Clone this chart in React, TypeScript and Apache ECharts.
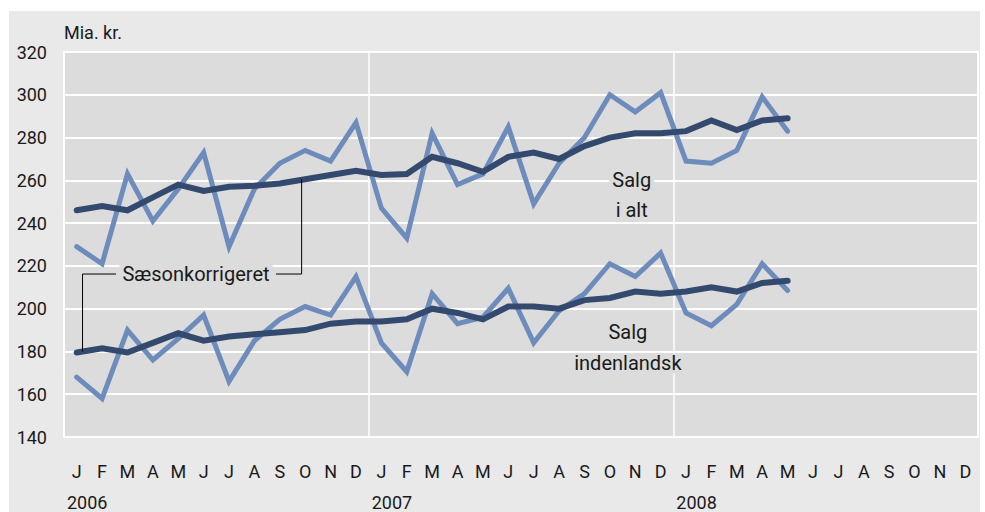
import React, { useEffect, useRef } from "react";
import * as echarts from "echarts";

const YEARS = ["2006", "2007", "2008"];
const MONTH_LETTERS = ["J", "F", "M", "A", "M", "J", "J", "A", "S", "O", "N", "D"];

// Salg i alt (ikke sæsonkorrigeret), mia. kr., jan 2006 - maj 2008
const SALG_I_ALT = [
  229, 221, 263, 241, 256, 273, 229, 256, 268, 274, 269, 287,
  247, 233, 282, 258, 263, 285, 249, 268, 280, 300, 292, 301,
  269, 268, 274, 299, 283,
];
// Salg i alt, sæsonkorrigeret
const SALG_I_ALT_SK = [
  246, 248, 246, 252, 258, 255, 257, 257.5, 258.5, 260.5, 262.5, 264.5,
  262.5, 263, 271, 268, 264, 271, 273, 270, 276, 280, 282, 282,
  283, 288, 283.5, 288, 289,
];
// Salg indenlandsk (ikke sæsonkorrigeret)
const SALG_INDENLANDSK = [
  168, 158, 190, 176, 186, 197, 166, 185, 195, 201, 197, 215,
  184, 170.5, 207, 193, 196, 209.5, 184, 199, 207, 221, 215, 226,
  198, 192, 202, 221, 208.5,
];
// Salg indenlandsk, sæsonkorrigeret
const SALG_INDENLANDSK_SK = [
  179.5, 181.5, 179.5, 184, 188.5, 185, 187, 188, 189, 190, 193, 194,
  194, 195, 200, 198, 195, 201, 201, 200, 204, 205, 208, 207,
  208, 210, 208, 212, 213,
];

const CATEGORIES: string[] = [];
YEARS.forEach((y) => MONTH_LETTERS.forEach((_, i) => CATEGORIES.push(`${y}-${i + 1}`)));

const FONT = "Roboto";
const TEXT_COLOR = "#1a1a1a";
const LIGHT = "#6d8bbb";
const DARK = "#34496e";
const PLOT_BG = "#dcdcdc";

export default function App() {
  const ref = useRef<HTMLDivElement>(null);

  useEffect(() => {
    if (!ref.current) return;
    const chart = echarts.init(ref.current, null, { renderer: "svg" });

    const lineSeries = (name: string, data: number[], color: string, width: number, z: number) => ({
      type: "line",
      name,
      data,
      xAxisIndex: 0,
      yAxisIndex: 0,
      showSymbol: false,
      symbol: "none",
      z,
      lineStyle: { color, width, cap: "round", join: "miter" },
      itemStyle: { color },
    });

    chart.setOption({
      animation: false,
      textStyle: { fontFamily: FONT },
      grid: {
        left: 64,
        top: 52,
        width: 914,
        height: 385,
        show: true,
        backgroundColor: PLOT_BG,
        borderColor: "#ffffff",
        borderWidth: 2,
        containLabel: false,
      },
      xAxis: [
        {
          type: "category",
          data: CATEGORIES,
          boundaryGap: true,
          axisLine: { show: false },
          axisTick: { show: false },
          axisLabel: {
            interval: 0,
            margin: 25,
            fontSize: 18,
            fontFamily: FONT,
            color: TEXT_COLOR,
            formatter: (_v: string, i: number) => MONTH_LETTERS[i % 12],
          },
          splitLine: {
            show: true,
            interval: (i: number) => i % 12 === 0,
            lineStyle: { color: "#ffffff", width: 1.5 },
          },
        },
        {
          type: "value",
          min: 0,
          max: 36,
          interval: 12,
          position: "bottom",
          axisLine: { show: false },
          axisTick: { show: false },
          splitLine: { show: false },
          axisLabel: {
            margin: 56,
            fontSize: 18,
            fontFamily: FONT,
            color: TEXT_COLOR,
            align: "left",
            padding: [0, 0, 0, 3],
            showMaxLabel: true,
            formatter: (v: number) => {
              const i = Math.round(v / 12);
              return i < YEARS.length ? YEARS[i] : "";
            },
          },
        },
      ],
      yAxis: {
        type: "value",
        min: 140,
        max: 320,
        interval: 20,
        name: "Mia. kr.",
        nameLocation: "end",
        nameGap: 20,
        nameTextStyle: {
          align: "left",
          verticalAlign: "middle",
          fontSize: 18,
          fontFamily: FONT,
          color: TEXT_COLOR,
        },
        axisLine: { show: false },
        axisTick: { show: false },
        axisLabel: { margin: 17, fontSize: 18, fontFamily: FONT, color: TEXT_COLOR },
        splitLine: { show: true, lineStyle: { color: "#ffffff", width: 2 } },
      },
      series: [
        lineSeries("Salg i alt", SALG_I_ALT, LIGHT, 5, 2),
        lineSeries("Salg indenlandsk", SALG_INDENLANDSK, LIGHT, 5, 2),
        lineSeries("Salg i alt, sæsonkorrigeret", SALG_I_ALT_SK, DARK, 6, 3),
        lineSeries("Salg indenlandsk, sæsonkorrigeret", SALG_INDENLANDSK_SK, DARK, 6, 3),
      ],
    });

    // Annotation anchors in data space (x in months from Jan 2006, y in mia. kr.)
    const px = (x: number) => chart.convertToPixel({ xAxisIndex: 1 }, x) as number;
    const py = (y: number) => chart.convertToPixel({ yAxisIndex: 0 }, y) as number;

    const labelX = px(5.2);
    const labelY = py(216.2);
    const leftBx = px(0.73);
    const leftBottom = py(180);
    const rightBx = px(9.36);
    const rightTop = py(260.5);

    const txt = (text: string, x: number, y: number) => ({
      type: "text",
      x,
      y,
      z: 10,
      style: {
        text,
        fontSize: 20,
        fontFamily: FONT,
        fill: TEXT_COLOR,
        align: "center",
        verticalAlign: "middle",
        backgroundColor: PLOT_BG,
        padding: [0, 3],
      },
    });

    chart.setOption({
      graphic: [
        {
          type: "polyline",
          z: 9,
          shape: {
            points: [
              [labelX - 80, labelY],
              [leftBx, labelY],
              [leftBx, leftBottom],
            ],
          },
          style: { stroke: "#000", lineWidth: 1, fill: null },
        },
        {
          type: "polyline",
          z: 9,
          shape: {
            points: [
              [labelX + 80, labelY],
              [rightBx, labelY],
              [rightBx, rightTop],
            ],
          },
          style: { stroke: "#000", lineWidth: 1, fill: null },
        },
        txt("Sæsonkorrigeret", labelX, labelY),
        txt("Salg", px(22.36), py(260.1)),
        txt("i alt", px(22.36), py(246.1)),
        txt("Salg", px(22.21), py(189.1)),
        txt("indenlandsk", px(22.21), py(174.4)),
      ],
    });

    return () => chart.dispose();
  }, []);

  return (
    <div style={{ position: "absolute", left: 0, top: 0, width: 985, height: 512, background: "#ffffff" }}>
      <div style={{ position: "absolute", left: 9, top: 11, width: 971, height: 501, background: "#e9e9e9" }} />
      <div ref={ref} style={{ position: "absolute", left: 0, top: 0, width: 985, height: 512 }} />
    </div>
  );
}
